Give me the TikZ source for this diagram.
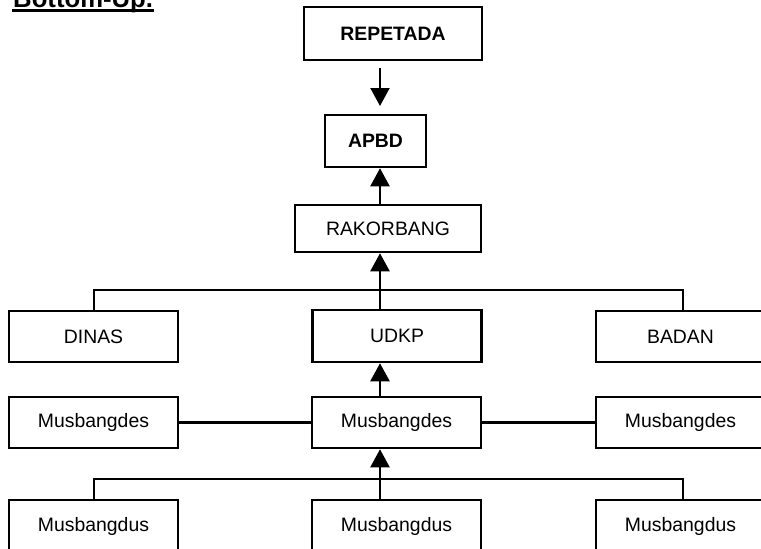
\documentclass[tikz,border=0pt]{standalone}
\usepackage{fontspec}
\setmainfont{Liberation Sans}
\usetikzlibrary{arrows.meta}
\begin{document}
\begin{tikzpicture}[x=1pt,y=-1pt,
  box/.style={draw, line width=2.5pt, inner sep=0pt, minimum width=169pt,
    minimum height=51pt, font=\fontsize{19.4}{23}\selectfont},
  link/.style={line width=2.2pt},
  arr/.style={link, -{Triangle[length=18pt,width=19pt]}}]
  \useasboundingbox (0,0) rectangle (761,549);
  \clip (0,0) rectangle (761,549);

  % heading
  \node[anchor=base west, inner sep=0pt, font=\fontsize{25.7}{30}\selectfont\bfseries]
    (title) at (13,7) {Bottom-Up.};
  \draw[line width=2.4pt] (12,10.5) -- (154,10.5);

  % top chain
  \node[box, font=\fontsize{19.4}{23}\selectfont\bfseries, minimum width=178pt, minimum height=53pt]
    (rep) at (393,33.5) {REPETADA};
  \node[box, font=\fontsize{19.4}{23}\selectfont\bfseries, minimum width=101pt, minimum height=52pt]
    (apbd) at (375.5,141) {APBD};
  \node[box, minimum width=186pt, minimum height=47pt] (rak) at (388,228.5) {RAKORBANG};

  % level of units
  \node[box] (dinas) at (93.5,336.5) {DINAS};
  \node[box, minimum height=52pt] (udkp) at (397,336) {UDKP};
  \node[box] (badan) at (680.5,336.5) {BADAN};

  % village level
  \node[box] (mdesL) at (93.5,422.5) {Musbangdes};
  \node[box] (mdesC) at (396.5,422.5) {Musbangdes};
  \node[box] (mdesR) at (680.5,422.5) {Musbangdes};

  % hamlet level
  \node[box, minimum height=52pt] (mdusL) at (93.5,526) {Musbangdus};
  \node[box, minimum height=52pt] (mdusC) at (396.5,526) {Musbangdus};
  \node[box, minimum height=52pt] (mdusR) at (680.5,526) {Musbangdus};

  % vertical flow column and branch levels
  \coordinate (ax) at (380,0);
  \coordinate (a1) at (380,68);
  \coordinate (a2) at (380,106);
  \coordinate (b1) at (380,290);
  \coordinate (b2) at (380,479);

  \draw[arr] (a1) -- (a2);
  \draw[arr] (rak.north -| ax) -- (apbd.south -| ax);
  \draw[arr] (udkp.north -| ax) -- (rak.south -| ax);
  \draw[arr] (mdesC.north -| ax) -- (udkp.south -| ax);
  \draw[arr] (mdusC.north -| ax) -- (mdesC.south -| ax);

  \draw[link] ([xshift=0.5pt]dinas.north) |- (b1) -| ([xshift=2.5pt]badan.north);
  \draw[link] ([xshift=0.5pt]mdusL.north) |- (b2) -| ([xshift=2.5pt]mdusR.north);
  \draw[link] (mdesL.east) -- (mdesC.west);
  \draw[link] (mdesC.east) -- (mdesR.west);
\end{tikzpicture}
\end{document}
